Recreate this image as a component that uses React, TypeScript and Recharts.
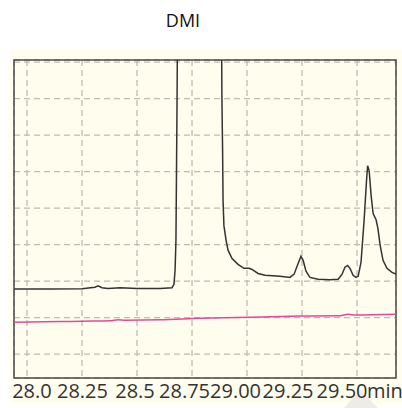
import React from "react";
import { LineChart, Line, XAxis, YAxis, CartesianGrid, ReferenceArea } from "recharts";

// retention time (min) / detector signal (grid units) for the DMI trace
const dmiTime = [
  27.941, 28.1045, 28.25, 28.309, 28.323, 28.341, 28.368, 28.423, 28.5, 28.605,
  28.659, 28.668, 28.673, 28.677, 28.682, 28.686, 28.79, 28.882, 28.886, 28.889,
  28.891, 28.895, 28.905, 28.914, 28.932, 28.959, 28.986, 29.009, 29.023, 29.05,
  29.082, 29.15, 29.195, 29.214, 29.227, 29.245, 29.255, 29.268, 29.286, 29.323,
  29.377, 29.414, 29.432, 29.445, 29.457, 29.468, 29.482, 29.495, 29.505, 29.518,
  29.532, 29.543, 29.548, 29.555, 29.564, 29.573, 29.586, 29.595, 29.605, 29.618,
  29.636, 29.659, 29.677,
];
const dmiSignal = [
  2.78, 2.78, 2.79, 2.83, 2.87, 2.82, 2.8, 2.82, 2.8, 2.8,
  2.82, 2.91, 3.3, 4.11, 7.94, 12, 20, 12, 7.94, 6.57,
  5.21, 4.52, 4.11, 3.84, 3.62, 3.46, 3.35, 3.35, 3.32, 3.21,
  3.16, 3.13, 3.1, 3.19, 3.4, 3.68, 3.57, 3.27, 3.1, 3.05,
  3.04, 3.05, 3.19, 3.38, 3.43, 3.35, 3.16, 3.1, 3.13, 3.51,
  4.66, 5.75, 6.16, 6.03, 5.34, 4.85, 4.69, 4.44, 3.98, 3.57,
  3.35, 3.24, 3.19,
];

// second (pink) channel
const refTime = [27.941, 28.15, 28.25, 28.377, 28.414, 28.445, 28.605, 28.786, 29.014, 29.241, 29.423, 29.459, 29.491, 29.677];
const refSignal = [1.87, 1.89, 1.9, 1.91, 1.94, 1.93, 1.94, 1.98, 2.01, 2.04, 2.05, 2.09, 2.07, 2.09];

const xTicks = [28.0, 28.25, 28.5, 28.75, 29.0, 29.25, 29.5];
const xTickLabels = ["28.0", "28.25", "28.5", "28.75", "29.00", "29.25", "29.50"];
const yTicks = [1, 2, 3, 4, 5, 6, 7, 8, 9];

// labels in the original are packed side by side, not centred on the grid
const tickShift = [5, 0.5, -2, -7.5, -11.5, -14, -15];

const dmiData = dmiTime.map((t, i) => ({ t, v: dmiSignal[i] }));
const refData = refTime.map((t, i) => ({ t, v: refSignal[i] }));

const X_MIN = 27.941;
const X_MAX = 29.677;
const Y_MIN = 0.344;
const Y_MAX = 9.06;

const font = "'Open Sans', 'Noto Sans', sans-serif";

function TimeTick(props: any) {
  const { x, y, payload, index } = props;
  const last = index === xTicks.length - 1;
  const cx = x + (tickShift[index] ?? 0);
  return (
    <g>
      <text x={cx} y={y + 12} textAnchor="middle" fontSize={20} fill="#333" fontFamily={font}>
        {xTickLabels[index] ?? payload.value}
      </text>
      {last && (
        <text x={cx + 25} y={y + 12} textAnchor="start" fontSize={20} fill="#333" fontFamily={font}>
          min
        </text>
      )}
    </g>
  );
}

export default function App() {
  return (
    <div style={{ position: "absolute", left: 0, top: 0, width: 402, height: 408, background: "#fff" }}>
      <div style={{ position: "absolute", left: 10, top: 50, width: 392, height: 353, background: "#FFFDEE" }} />
      <div
        style={{
          position: "absolute",
          left: 0,
          top: 0,
          width: 402,
          height: 408,
          background: "#EDECE6",
          clipPath: "polygon(360px 390px, 344px 408px, 378px 408px)",
        }}
      />
      <div
        style={{
          position: "absolute",
          left: 0,
          top: 8,
          width: 366,
          textAlign: "center",
          fontFamily: font,
          fontSize: 18,
          color: "#111",
        }}
      >
        DMI
      </div>
      <div style={{ position: "absolute", left: 0, top: 0 }}>
        <LineChart width={402} height={408} margin={{ top: 60, right: 6, bottom: 0, left: 14 }}>
          <CartesianGrid stroke="#C2BBB0" strokeDasharray="6 4" strokeWidth={1.3} />
          <XAxis
            dataKey="t"
            type="number"
            domain={[X_MIN, X_MAX]}
            ticks={xTicks}
            allowDataOverflow
            axisLine={false}
            tickLine={false}
            height={30}
            tick={<TimeTick />}
            interval={0}
          />
          <YAxis type="number" domain={[Y_MIN, Y_MAX]} ticks={yTicks} allowDataOverflow hide />
          <ReferenceArea
            x1={X_MIN}
            x2={X_MAX}
            y1={Y_MIN}
            y2={Y_MAX}
            fill="none"
            fillOpacity={0}
            stroke="#4a4a4a"
            strokeWidth={1.5}
          />
          <Line
            data={refData}
            dataKey="v"
            type="monotone"
            stroke="#E8479A"
            strokeWidth={1.5}
            dot={false}
            isAnimationActive={false}
          />
          <Line
            data={dmiData}
            dataKey="v"
            type="linear"
            stroke="#333"
            strokeWidth={1.5}
            dot={false}
            isAnimationActive={false}
          />
        </LineChart>
      </div>
    </div>
  );
}
